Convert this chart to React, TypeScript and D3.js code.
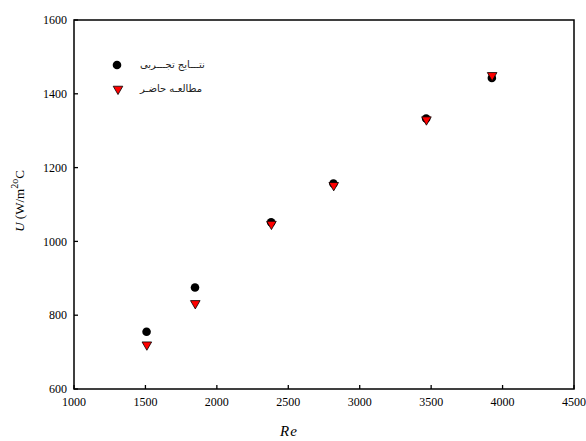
import React from 'react'
import * as d3 from 'd3'

// Re vs overall heat transfer coefficient U
const reExp = [1508, 1847, 2380, 2816, 3465, 3925]
const uExp = [755, 875, 1052, 1157, 1333, 1443]
const reSim = [1510, 1849, 2382, 2818, 3467, 3927]
const uSim = [720, 832, 1047, 1152, 1330, 1450]

const xTicks = [1000, 1500, 2000, 2500, 3000, 3500, 4000, 4500]
const yTicks = [600, 800, 1000, 1200, 1400, 1600]

const legendLabels = ['نتـــایج تجـــربی', 'مطالعـه حاضـر']

const W = 586
const H = 441
const M = { top: 20, right: 12, bottom: 52, left: 74 }
const FONT = "'Liberation Serif', 'Times New Roman', serif"

export default function App() {
  const iw = W - M.left - M.right
  const ih = H - M.top - M.bottom
  const x = d3.scaleLinear().domain([1000, 4500]).range([0, iw])
  const y = d3.scaleLinear().domain([600, 1600]).range([ih, 0])
  const tri = d3.symbol().type(d3.symbolTriangle).size(40)()

  return (
    <svg width={W} height={H} style={{ position: 'absolute', left: 0, top: 0, background: '#fff', fontFamily: FONT }}>
      <g transform={`translate(${M.left},${M.top})`}>
        <rect x={0} y={0} width={iw} height={ih} fill="none" stroke="#000" strokeWidth={1.5} />

        {xTicks.map(t => (
          <g key={'x' + t} transform={`translate(${x(t)},${ih})`}>
            <line y1={0} y2={-4} stroke="#000" strokeWidth={1.3} />
            <text y={17} textAnchor="middle" fontSize={12}>{t}</text>
          </g>
        ))}
        {yTicks.map(t => (
          <g key={'y' + t} transform={`translate(0,${y(t)})`}>
            <line x1={0} x2={4} stroke="#000" strokeWidth={1.3} />
            <text x={-7} dy="0.35em" textAnchor="end" fontSize={12}>{t}</text>
          </g>
        ))}

        {reExp.map((r, i) => (
          <circle key={'c' + i} cx={x(r)} cy={y(uExp[i])} r={4.3} fill="#000" />
        ))}
        {reSim.map((r, i) => (
          <path key={'t' + i} d={tri!} transform={`translate(${x(r)},${y(uSim[i])}) rotate(180)`}
            fill="#ff0000" stroke="#000" strokeWidth={0.8} />
        ))}

        {/* legend */}
        <circle cx={43} cy={45} r={4.3} fill="#000" />
        <path d={tri!} transform={`translate(44,69) rotate(180)`} fill="#ff0000" stroke="#000" strokeWidth={0.8} />
        <text x={66} y={48} fontSize={10} fill="#222" style={{ fontFamily: "'DejaVu Sans', sans-serif" }}>{legendLabels[0]}</text>
        <text x={66} y={72} fontSize={10} fill="#222" style={{ fontFamily: "'DejaVu Sans', sans-serif" }}>{legendLabels[1]}</text>
      </g>

      <text x={289} y={436} textAnchor="middle" fontSize={15} fontStyle="italic" letterSpacing={1}>Re</text>
      <text transform="translate(24,201) rotate(-90)" textAnchor="middle" fontSize={13}>
        <tspan fontStyle="italic">U</tspan>
        <tspan> (W/m</tspan>
        <tspan fontSize={10} dy={-6}>2</tspan>
        <tspan fontSize={10}>o</tspan>
        <tspan dy={6}>C</tspan>
      </text>
    </svg>
  )
}
